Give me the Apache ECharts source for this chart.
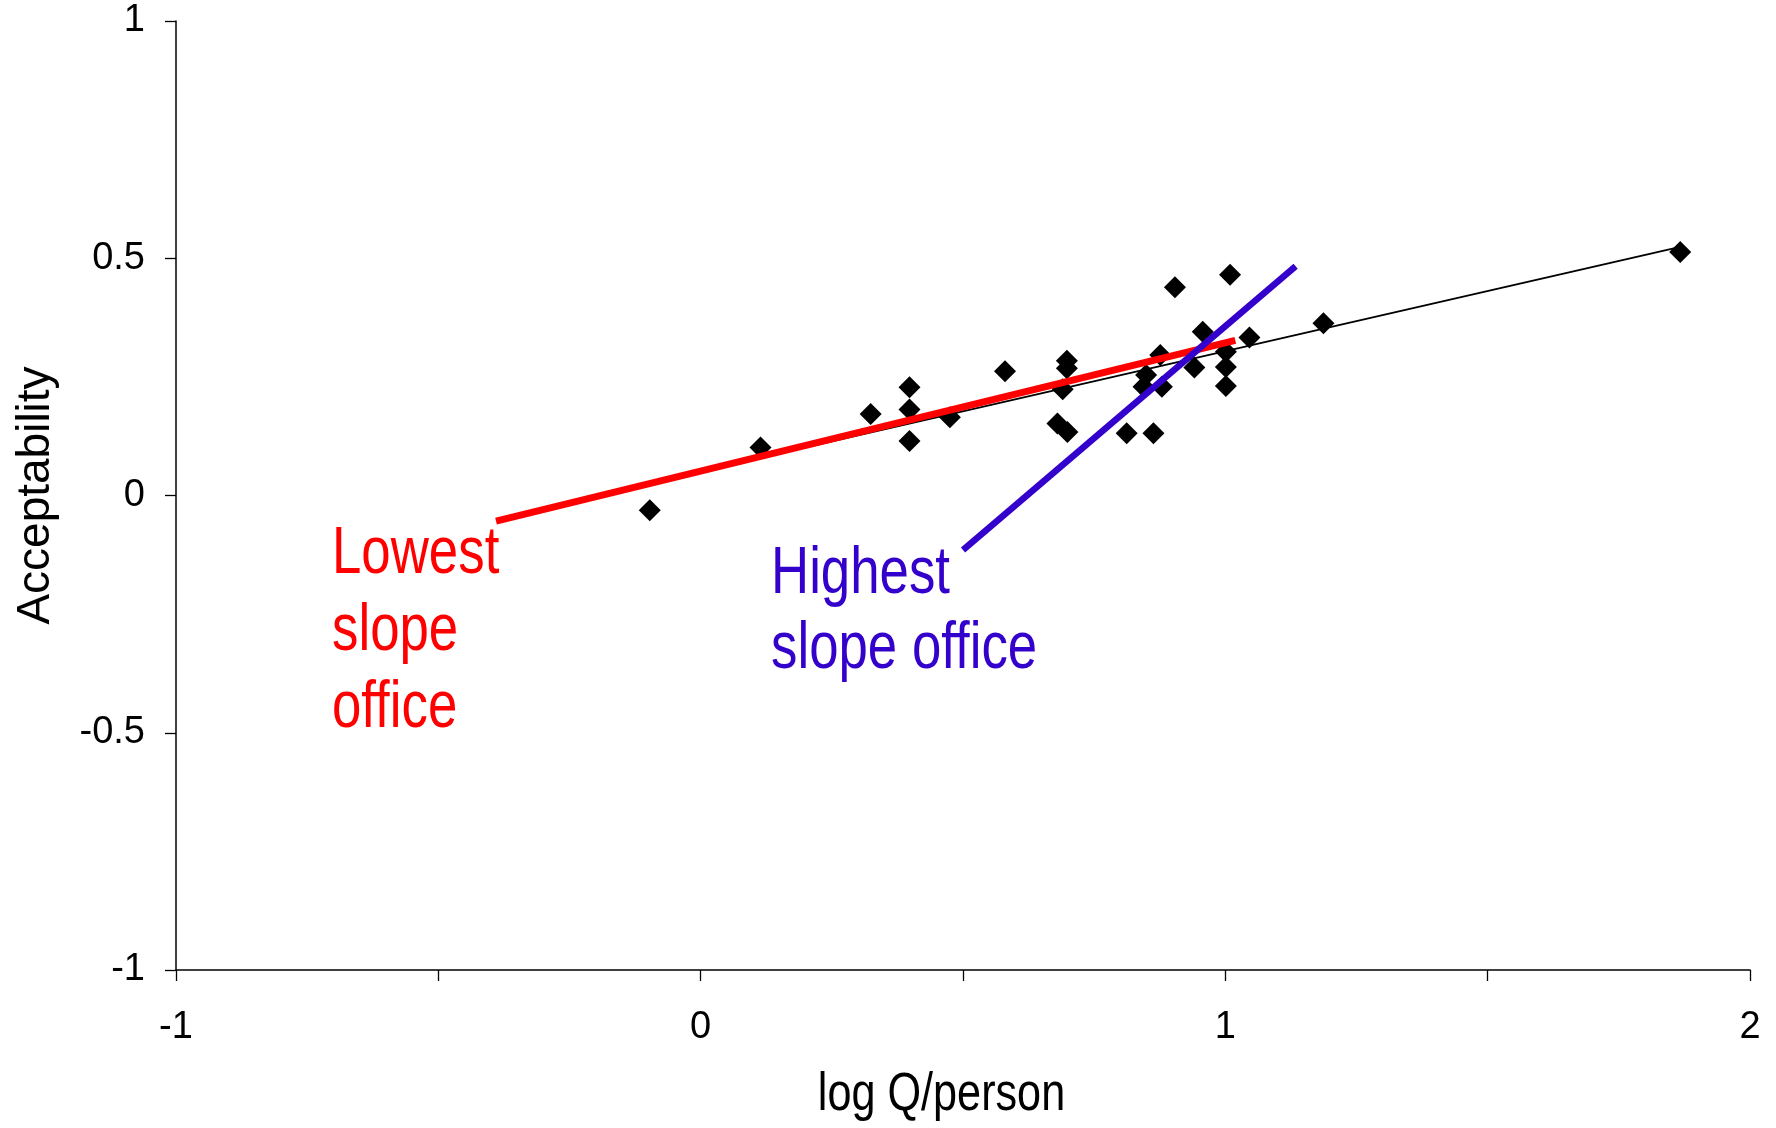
<!DOCTYPE html>
<html>
<head>
<meta charset="utf-8">
<script src="https://cdn.jsdelivr.net/npm/echarts@6/dist/echarts.min.js"></script>
<style>
html,body{margin:0;padding:0;background:#fff;}
#c{width:1776px;height:1128px;}
</style>
</head>
<body>
<div id="c"></div>
<script>
// Data
const officeLogQ = [-0.097, 0.114, 0.324, 0.398, 0.398, 0.398, 0.475, 0.580, 0.698, 0.698,
  0.690, 0.680, 0.699, 0.812, 0.863, 0.849, 0.844, 0.876, 0.879, 0.904,
  0.941, 0.957, 1.001, 1.001, 1.001, 1.009, 1.046, 1.187, 1.867];
const officeAcceptability = [-0.031, 0.101, 0.172, 0.228, 0.181, 0.115, 0.165, 0.262, 0.284, 0.268,
  0.224, 0.152, 0.134, 0.131, 0.131, 0.254, 0.229, 0.296, 0.229, 0.439,
  0.270, 0.345, 0.303, 0.271, 0.231, 0.465, 0.333, 0.363, 0.513];
const overallFitX = [-0.097, 1.867];
const overallFitY = [0.026, 0.524];
const lowestSlopeX = [-0.390, 1.019];
const lowestSlopeY = [-0.054, 0.327];
const highestSlopeX = [0.500, 1.134];
const highestSlopeY = [-0.115, 0.483];
const xTicks = { min: -1, max: 2, step: 0.5 };
const yTicks = { min: -1, max: 1, step: 0.5 };
const xTitle = 'log Q/person';
const yTitle = 'Acceptability';
const lowestLabel = 'Lowest\nslope\noffice';
const highestLabel = 'Highest\nslope office';

const zip = (a, b) => a.map((v, i) => [v, b[i]]);

const chart = echarts.init(document.getElementById('c'), null, { renderer: 'canvas' });
const sans = '"Liberation Sans", Arial, sans-serif';
const NARROW = 0.8; // Arial Narrow look: horizontally condensed Liberation Sans

chart.setOption({
  animation: false,
  backgroundColor: '#ffffff',
  grid: { left: 176, right: 26, top: 21, bottom: 158, containLabel: false, outerBoundsMode: 'none' },
  xAxis: {
    type: 'value', min: xTicks.min, max: xTicks.max, interval: xTicks.step,
    axisLine: { show: true, onZero: false, lineStyle: { color: '#000', width: 1.5 } },
    axisTick: { show: true, length: 11, lineStyle: { color: '#000', width: 1.3 } },
    splitLine: { show: false },
    axisLabel: {
      margin: 39, fontFamily: sans, fontSize: 38, color: '#000',
      formatter: v => Number.isInteger(v) ? String(v) : ''
    }
  },
  yAxis: {
    type: 'value', min: yTicks.min, max: yTicks.max, interval: yTicks.step,
    name: yTitle, nameLocation: 'middle', nameGap: 117, nameRotate: 90,
    nameTextStyle: { fontFamily: sans, fontSize: 46, color: '#000' },
    axisLine: { show: true, onZero: false, lineStyle: { color: '#000', width: 1.5 } },
    axisTick: { show: true, length: 11, lineStyle: { color: '#000', width: 1.3 } },
    splitLine: { show: false },
    axisLabel: { margin: 31, fontFamily: sans, fontSize: 38, color: '#000' }
  },
  series: [
    {
      type: 'scatter', symbol: 'diamond', symbolSize: 22,
      itemStyle: { color: '#000', opacity: 1 }, data: zip(officeLogQ, officeAcceptability), z: 2
    },
    {
      type: 'line', data: zip(overallFitX, overallFitY), showSymbol: false, symbol: 'none',
      lineStyle: { color: '#000', width: 1.8 }, z: 3
    },
    {
      type: 'line', data: zip(lowestSlopeX, lowestSlopeY), showSymbol: false, symbol: 'none',
      lineStyle: { color: '#ff0000', width: 7, cap: 'butt' }, z: 4
    },
    {
      type: 'line', data: zip(highestSlopeX, highestSlopeY), showSymbol: false, symbol: 'none',
      lineStyle: { color: '#3300cc', width: 6.5, cap: 'butt' }, z: 5
    }
  ],
  graphic: [
    {
      type: 'text', x: 941.5, y: 1095, scaleX: NARROW,
      style: { text: xTitle, fill: '#000', font: '54px ' + sans, textAlign: 'center', textVerticalAlign: 'middle' }
    },
    {
      type: 'text', x: 332, y: 516, scaleX: NARROW,
      style: { text: lowestLabel, fill: '#ff0000', font: '66px ' + sans, lineHeight: 77, textAlign: 'left', textVerticalAlign: 'top' }
    },
    {
      type: 'text', x: 771, y: 537, scaleX: NARROW,
      style: { text: highestLabel, fill: '#3300cc', font: '66px ' + sans, lineHeight: 75, textAlign: 'left', textVerticalAlign: 'top' }
    }
  ]
});
</script>
</body>
</html>
